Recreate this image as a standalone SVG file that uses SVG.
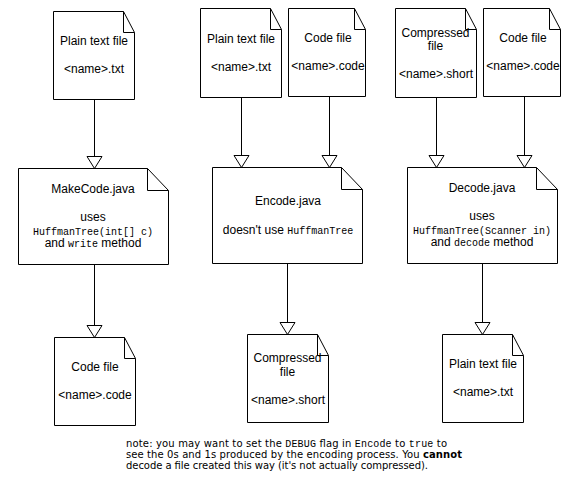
<svg xmlns="http://www.w3.org/2000/svg" width="583" height="480" viewBox="0 0 583 480">
<defs>
<style>
.shape{fill:#fff;stroke:#000;stroke-width:1}
.fold{fill:none;stroke:#000;stroke-width:1}
.t{font-family:"Liberation Sans",Arial,sans-serif;font-size:12px;fill:#000;text-anchor:middle}
.m{font-family:"Liberation Mono","Courier New",monospace;font-size:10px}
.note{font-family:"DejaVu Sans",Verdana,sans-serif;font-size:10px;fill:#000}
.nm{font-family:"Liberation Mono","Courier New",monospace;font-size:10px}
.edge{fill:none;stroke:#000;stroke-width:1;marker-end:url(#open)}
</style>
<marker id="open" markerUnits="userSpaceOnUse" viewBox="-14 -9 15 18" refX="0" refY="0" markerWidth="15" markerHeight="18" orient="auto">
<path d="M-12,-7.5 L0,0 L-12,7.5 Z" fill="#fff" stroke="#000" stroke-width="1"/>
</marker>
</defs>

<g id="connectors">
<path class="edge" d="M94.5,99.5 V168.5"/>
<path class="edge" d="M94.5,264.5 V337.5"/>
<path class="edge" d="M241.5,97.5 V167.5"/>
<path class="edge" d="M329.5,96.5 V167.5"/>
<path class="edge" d="M287.5,263.5 V334.5"/>
<path class="edge" d="M436.5,97.5 V167.5"/>
<path class="edge" d="M524.5,96.5 V167.5"/>
<path class="edge" d="M482.5,263.5 V334.5"/>
</g>

<g id="plain1">
<path class="shape" d="M53.5,11.5 H123.5 L134.5,32.5 V99.5 H53.5 Z"/>
<path class="fold" d="M123.5,11.5 V32.5 H134.5"/>
<text class="t" x="94" y="45">Plain text file</text>
<text class="t" x="94" y="73">&lt;name&gt;.txt</text>
</g>

<g id="plain2">
<path class="shape" d="M200.5,8.5 H270.5 L281.5,29.5 V97.5 H200.5 Z"/>
<path class="fold" d="M270.5,8.5 V29.5 H281.5"/>
<text class="t" x="241" y="43">Plain text file</text>
<text class="t" x="241" y="71">&lt;name&gt;.txt</text>
</g>

<g id="code2">
<path class="shape" d="M288.5,8.5 H354.5 L365.5,29.5 V96.5 H288.5 Z"/>
<path class="fold" d="M354.5,8.5 V29.5 H365.5"/>
<text class="t" x="328" y="41.5">Code file</text>
<text class="t" x="328" y="70">&lt;name&gt;.code</text>
</g>

<g id="compressed1">
<path class="shape" d="M395.5,8.5 H465.5 L476.5,29.5 V97.5 H395.5 Z"/>
<path class="fold" d="M465.5,8.5 V29.5 H476.5"/>
<text class="t" x="435.5" y="36.5">Compressed</text>
<text class="t" x="435.5" y="49.5">file</text>
<text class="t" x="436" y="78">&lt;name&gt;.short</text>
</g>

<g id="code3">
<path class="shape" d="M483.5,8.5 H549.5 L560.5,29.5 V96.5 H483.5 Z"/>
<path class="fold" d="M549.5,8.5 V29.5 H560.5"/>
<text class="t" x="523" y="41.5">Code file</text>
<text class="t" x="523" y="70">&lt;name&gt;.code</text>
</g>

<g id="makecode">
<path class="shape" d="M18.5,168.5 H147.5 L168.5,190.5 V264.5 H18.5 Z"/>
<path class="fold" d="M147.5,168.5 V190.5 H168.5"/>
<text class="t" x="93" y="193">MakeCode.java</text>
<text class="t" x="93" y="221">uses</text>
<text class="t" x="93" y="234.5"><tspan class="m">HuffmanTree(int[] c)</tspan></text>
<text class="t" x="93" y="247">and <tspan class="m">write</tspan> method</text>
</g>

<g id="encode">
<path class="shape" d="M212.5,167.5 H341.5 L362.5,189.5 V263.5 H212.5 Z"/>
<path class="fold" d="M341.5,167.5 V189.5 H362.5"/>
<text class="t" x="288" y="205">Encode.java</text>
<text class="t" x="288" y="234">doesn't use <tspan class="m">HuffmanTree</tspan></text>
</g>

<g id="decode">
<path class="shape" d="M407.5,167.5 H536.5 L557.5,189.5 V263.5 H407.5 Z"/>
<path class="fold" d="M536.5,167.5 V189.5 H557.5"/>
<text class="t" x="482" y="192">Decode.java</text>
<text class="t" x="482" y="220">uses</text>
<text class="t" x="482" y="233.5"><tspan class="m">HuffmanTree(Scanner in)</tspan></text>
<text class="t" x="482" y="246">and <tspan class="m">decode</tspan> method</text>
</g>

<g id="code1">
<path class="shape" d="M54.5,337.5 H124.5 L135.5,358.5 V425.5 H54.5 Z"/>
<path class="fold" d="M124.5,337.5 V358.5 H135.5"/>
<text class="t" x="95" y="371">Code file</text>
<text class="t" x="95" y="399">&lt;name&gt;.code</text>
</g>

<g id="compressed2">
<path class="shape" d="M247.5,334.5 H317.5 L328.5,355.5 V422.5 H247.5 Z"/>
<path class="fold" d="M317.5,334.5 V355.5 H328.5"/>
<text class="t" x="287.5" y="361.5">Compressed</text>
<text class="t" x="287.5" y="376">file</text>
<text class="t" x="288" y="403.5">&lt;name&gt;.short</text>
</g>

<g id="plain3">
<path class="shape" d="M442.5,334.5 H512.5 L523.5,355.5 V422.5 H442.5 Z"/>
<path class="fold" d="M512.5,334.5 V355.5 H523.5"/>
<text class="t" x="483" y="367.5">Plain text file</text>
<text class="t" x="483" y="396">&lt;name&gt;.txt</text>
</g>

<g id="note">
<text class="note" x="126" y="447" textLength="321" lengthAdjust="spacing">note: you may want to set the <tspan class="nm">DEBUG</tspan> flag in <tspan class="nm">Encode</tspan> to <tspan class="nm">true</tspan> to</text>
<text class="note" x="126" y="458" textLength="336" lengthAdjust="spacing">see the 0s and 1s produced by the encoding process.  You <tspan font-weight="bold">cannot</tspan></text>
<text class="note" x="126" y="469" textLength="302" lengthAdjust="spacing">decode a file created this way (it's not actually compressed).</text>
</g>
</svg>
